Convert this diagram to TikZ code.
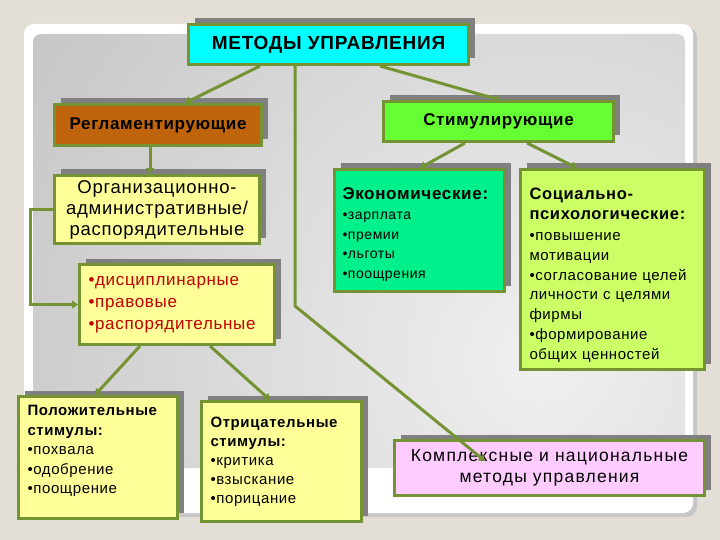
\documentclass[tikz,border=0pt]{standalone}
\usepackage{fontspec}
\setmainfont{Liberation Sans}[LetterSpace=4]
\usetikzlibrary{shadows,arrows.meta}

\definecolor{slidebg}{RGB}{228,223,214}
\definecolor{olive}{RGB}{116,148,52}
\definecolor{cyanbox}{RGB}{0,255,255}
\definecolor{brownbox}{RGB}{192,100,12}
\definecolor{yellowbox}{RGB}{255,255,153}
\definecolor{greenbox}{RGB}{102,255,51}
\definecolor{mintbox}{RGB}{0,240,140}
\definecolor{limebox}{RGB}{204,255,102}
\definecolor{pinkbox}{RGB}{255,204,255}
\definecolor{discred}{RGB}{192,0,0}

\tikzset{
  box/.style={draw=olive, line width=3pt, inner sep=0pt, anchor=north west,
    general shadow={fill=black!50, shadow xshift=6pt, shadow yshift=6pt}},
  listbox/.style={box, align=left, inner xsep=9pt},
  conn/.style={draw=olive, line width=3pt, -{Triangle[length=6pt,width=8pt]}}
}

\begin{document}
\begin{tikzpicture}[x=1pt,y=-1pt]
\useasboundingbox (0,0) rectangle (720,540);
% slide
\fill[slidebg] (0,0) rectangle (720,540);
\fill[black!22, rounded corners=10] (27,27) rectangle (697,517);
\fill[white, rounded corners=10] (24,24) rectangle (693,513);
\begin{scope}
\clip[rounded corners=8] (33,34) rectangle (685,468);
\shade[inner color=black!6, outer color=black!33] (540,360) circle (1000);
\end{scope}

% boxes
\node[box, fill=cyanbox, minimum width=280, minimum height=40,
  font=\fontsize{19}{22}\selectfont\bfseries] (top) at (187,23) {МЕТОДЫ УПРАВЛЕНИЯ};
\node[box, fill=brownbox, minimum width=207, minimum height=41,
  font=\fontsize{17}{20}\selectfont\bfseries] (regl) at (53,103) {Регламентирующие};
\node[box, fill=greenbox, minimum width=230, minimum height=40,
  font=\fontsize{17}{20}\selectfont\bfseries] (stim) at (382,100) {Стимулирующие};
\node[box, fill=yellowbox, minimum width=205, minimum height=68, align=center,
  font=\fontsize{18.5}{21}\selectfont] (org) at (53,174)
  {Организационно-\\административные/\\распорядительные};
\node[listbox, fill=yellowbox, text width=177, minimum height=80,
  font=\fontsize{17}{22}\selectfont, text=discred] (disc) at (78,263)
  {•дисциплинарные\\•правовые\\•распорядительные};
\node[listbox, fill=mintbox, text width=154, text height=30, text depth=92,
  font=\fontsize{14}{19.5}\selectfont, inner xsep=8pt] (econ) at (333,168)
  {{\fontsize{17}{20}\selectfont\bfseries Экономические:}\\[1pt]•зарплата\\•премии\\•льготы\\•поощрения};
\node[listbox, fill=limebox, text width=166, text height=30, text depth=170,
  font=\fontsize{15}{19.7}\selectfont] (soc) at (519,168)
  {{\fontsize{16.5}{21}\selectfont\bfseries Социально-\\психологические:}\\[2pt]•повышение\\мотивации\\•согласование целей\\личности с целями\\фирмы\\•формирование\\общих ценностей};
\node[listbox, fill=yellowbox, text width=141, text height=19, text depth=103,
  font=\fontsize{15}{19.5}\selectfont] (pos) at (17,395)
  {{\bfseries\fontsize{15}{20}\selectfont Положительные\\стимулы:}\\•похвала\\•одобрение\\•поощрение};
\node[listbox, fill=yellowbox, text width=142, minimum height=120,
  font=\fontsize{15}{19}\selectfont] (neg) at (200,400)
  {{\bfseries\fontsize{15}{20}\selectfont Отрицательные\\стимулы:}\\•критика\\•взыскание\\•порицание};
\node[box, fill=pinkbox, minimum width=310, minimum height=55, align=center,
  font=\fontsize{17.5}{21}\selectfont\addfontfeature{LetterSpace=7}] (kompl) at (393,439)
  {Комплексные и национальные\\методы управления};

% connectors
\draw[conn] ([shift={(73,0)}]top.south west) -- ([shift={(132,0)}]regl.north west);
\draw[conn] ([shift={(97,0)}]regl.south west) -- ([shift={(97,0)}]org.north west);
\draw[conn] (org.west) -- ++(-23,0) |- (disc.west);
\draw[conn] ([shift={(62,0)}]disc.south west) -- ([shift={(78,0)}]pos.north west);
\draw[conn] ([shift={(132,0)}]disc.south west) -- ([shift={(70,0)}]neg.north west);
\draw[conn] ([shift={(193,0)}]top.south west) -- ([shift={(118,0)}]stim.north west);
\draw[conn] ([shift={(83,0)}]stim.south west) -- ([shift={(87,0)}]econ.north west);
\draw[conn] ([shift={(145,0)}]stim.south west) -- ([shift={(58,0)}]soc.north west);
\draw[conn] ([shift={(108,0)}]top.south west) -- ++(0,240) -- ([shift={(92,22)}]kompl.north west);
\end{tikzpicture}
\end{document}
